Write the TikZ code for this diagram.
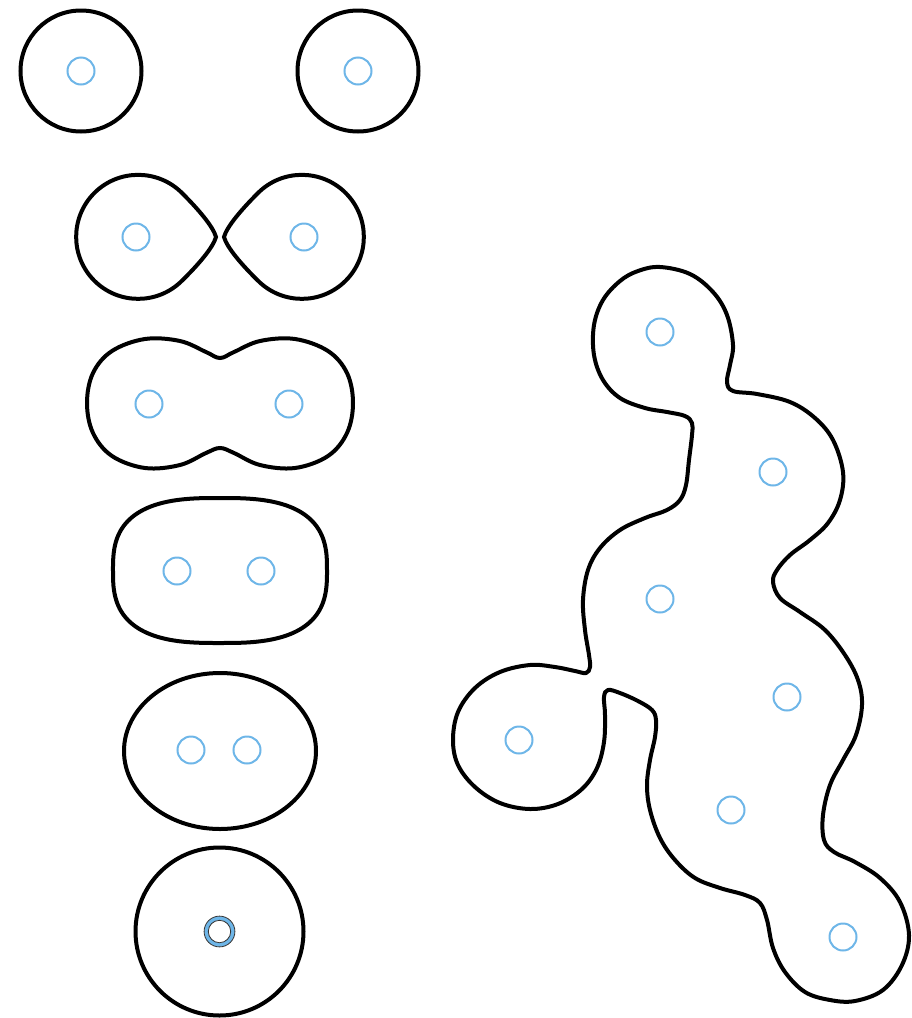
\documentclass[tikz,border=0pt]{standalone}
\begin{document}
\begin{tikzpicture}[x=1pt,y=-1pt,
  outline/.style={draw=black,line width=4pt},
  charge/.style={draw=chargeblue,line width=2pt},
  ]
\definecolor{chargeblue}{RGB}{110,182,232}
\useasboundingbox (0,0) rectangle (912,1018);
% row 1: separate circles
\draw[outline] (81,71) circle[radius=60.5];
\draw[outline] (358,71) circle[radius=60.5];
\draw[charge] (81,71) circle[radius=13.5];
\draw[charge] (358,71) circle[radius=13.5];
% row 2: teardrops
\draw[outline] (216,237) .. controls (213,226) and (197,208) .. (182,193)
  arc[start angle=-45,end angle=-315,radius=62]
  .. controls (197,266) and (213,248) .. cycle;
\draw[outline] (224,237) .. controls (227,226) and (243,208) .. (258,193)
  arc[start angle=-135,end angle=135,radius=62]
  .. controls (243,266) and (227,248) .. cycle;
\draw[charge] (136,237) circle[radius=13.5];
\draw[charge] (304,237) circle[radius=13.5];
% row 3: peanut
\draw[outline] plot[smooth cycle,tension=0.6] coordinates {(87,403) (93,373) (112,351) (145,339) (180,341) (206,352) (220,358) (234,352) (260,341) (295,339) (328,351) (347,373) (353,403) (347,433) (328,456) (295,468) (260,465) (234,453) (220,448) (206,453) (180,465) (145,468) (112,456) (93,433)};
\draw[charge] (149,404) circle[radius=13.5];
\draw[charge] (289,404) circle[radius=13.5];
% row 4: rounded (superellipse)
\draw[outline] plot[smooth cycle,domain=1:356,samples=72]
  ({220+107*sign(cos(\x))*abs(cos(\x))^(0.714)},{570.5+72.5*sign(sin(\x))*abs(sin(\x))^(0.714)});
\draw[charge] (177,571) circle[radius=13.5];
\draw[charge] (261,571) circle[radius=13.5];
% row 5: ellipse
\draw[outline] (220,751) ellipse[x radius=96,y radius=78];
\draw[charge] (191,750) circle[radius=13.5];
\draw[charge] (247,750) circle[radius=13.5];
% row 6: coincident
\draw[outline] (219.5,931.5) circle[radius=84];
\draw[chargeblue,line width=4pt] (219.5,931.5) circle[radius=13.3];
\draw[black!80,line width=0.8pt] (219.5,931.5) circle[radius=15.4];
\draw[black!80,line width=0.8pt] (219.5,931.5) circle[radius=11.2];
% big blob
\draw[outline] plot[smooth cycle,tension=0.6] coordinates {
(660,267) (690,274) (713,292) (727,315) (733,345) (730,365) (727,382) (733,391) (757,394) (790,402) (815,418) (833,440) (843,472) (840,500) (828,523) (810,540) (790,555) (777,570) (773,582) (780,598) (800,612) (825,630) (845,655) (858,680) (862,705) (856,735) (843,760) (830,785) (823,815) (824,840) (834,852) (855,862) (880,878) (900,902) (909,935) (902,965) (883,990) (855,1001) (830,1000) (805,992) (785,972) (773,948) (767,920) (760,903) (745,895) (720,888) (695,878) (675,860) (660,838) (650,810) (647,785) (650,760) (655,737) (656,720) (652,710) (638,701) (620,693) (608,690) (604,697) (605,715) (604,742) (597,768) (582,789) (558,804) (530,809) (500,803) (475,787) (458,765) (453,740) (458,712) (475,688) (500,672) (530,665) (555,667) (575,671) (586,673) (590,667) (589,655) (585,630) (583,600) (588,570) (600,548) (620,530) (645,518) (667,510) (680,500) (686,485) (689,460) (692,435) (692,423) (685,416) (667,412) (645,408) (620,398) (603,380) (594,355) (594,325) (603,300) (620,281) (638,271)};
\foreach \p in {(660,332),(773,472),(660,599),(519,740),(787,697),(731,810),(843,937)}
  \draw[charge] \p circle[radius=13.5];
\end{tikzpicture}
\end{document}
